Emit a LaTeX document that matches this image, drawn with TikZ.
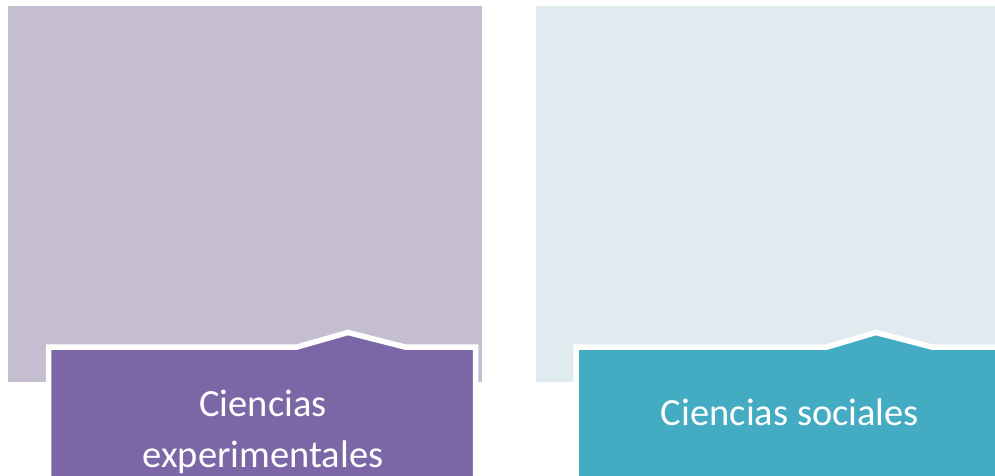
\documentclass[tikz,border=0pt]{standalone}
\usepackage{fontspec}
\setmainfont{Carlito}
\definecolor{bgleft}{HTML}{C4BED0}
\definecolor{bgright}{HTML}{E0EBF0}
\definecolor{purp}{HTML}{7B67A6}
\definecolor{teal}{HTML}{44ACC2}
\tikzset{
  tabbox/.style={draw=white, line width=5.5pt, line join=miter},
  lbl/.style={text=white, font=\fontsize{38.5}{51}\selectfont, align=center, inner sep=0pt}
}
\begin{document}
\begin{tikzpicture}[x=1pt,y=-1pt]
\useasboundingbox (0,0) rectangle (995,475);
\clip (0,0) rectangle (995,475);
\fill[white] (0,0) rectangle (995,475);
% backgrounds
\fill[bgleft] (8,6) rectangle (482,382);
\fill[bgright] (536,6) rectangle (995,382);
% tab boxes
\filldraw[tabbox, fill=purp] (48.5,500) -- (48.5,347) -- (297,347) -- (348,332.5) -- (405,347) -- (475.5,347) -- (475.5,500) -- cycle;
\filldraw[tabbox, fill=teal] (576,500) -- (576,347) -- (827,347) -- (876,332.5) -- (932,347) -- (1010,347) -- (1010,500) -- cycle;
% labels
\node[lbl, anchor=base] (l1) at (263,416) {Ciencias};
\node[lbl, anchor=base] (l2) at (263,467) {experimentales};
\node[lbl, anchor=base] (r1) at (790,425) {Ciencias sociales};
\end{tikzpicture}
\end{document}
